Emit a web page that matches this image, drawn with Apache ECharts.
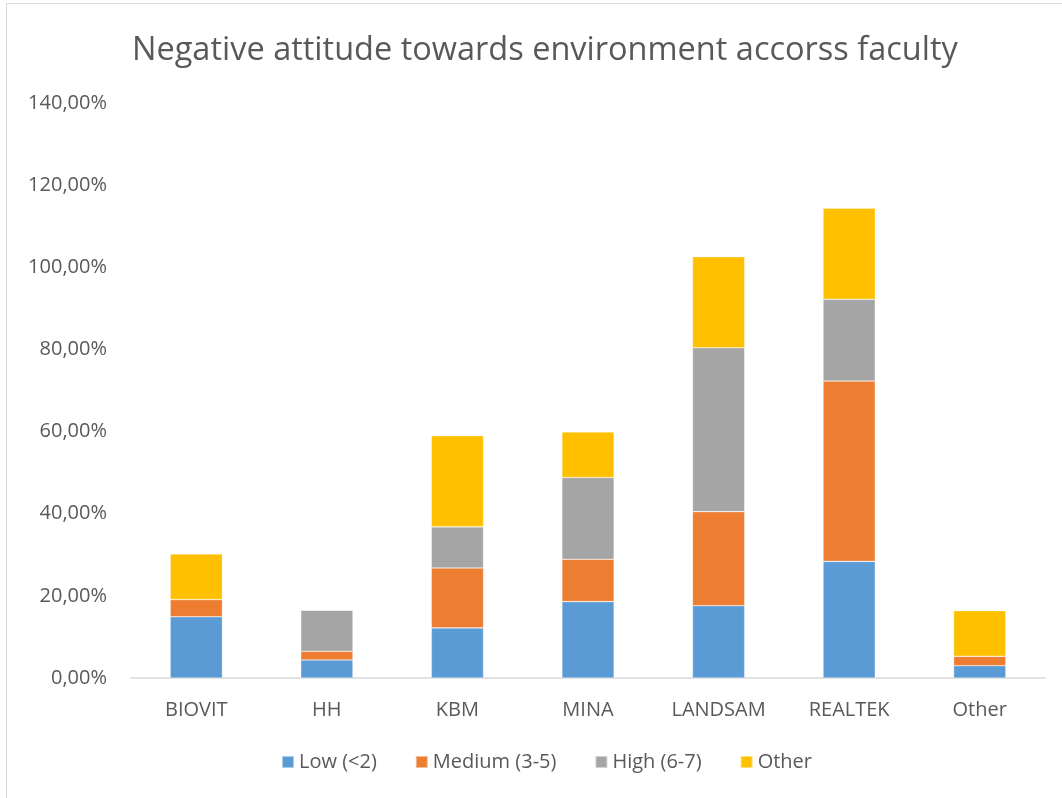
<!DOCTYPE html>
<html>
<head>
<meta charset="utf-8">
<script src="https://cdn.jsdelivr.net/npm/echarts@6/dist/echarts.min.js"></script>
<style>
html,body{margin:0;padding:0;background:#fff;}
#c{width:1062px;height:798px;position:relative;}
#b{position:absolute;left:6px;top:3px;width:1070px;height:810px;border-top:1px solid #d9d9d9;border-left:1px solid #d9d9d9;pointer-events:none;}
</style>
</head>
<body>
<div id="c"></div>
<div id="b"></div>
<script>
const categories = ['BIOVIT', 'HH', 'KBM', 'MINA', 'LANDSAM', 'REALTEK', 'Other'];
const seriesNames = ['Low (<2)', 'Medium (3-5)', 'High (6-7)', 'Other'];
const lowVals    = [14.9, 4.4, 12.2, 18.6, 17.6, 28.4, 3.0];
const mediumVals = [4.2, 2.1, 14.6, 10.3, 22.9, 43.9, 2.3];
const highVals   = [0, 10.0, 10.0, 19.9, 39.9, 19.9, 0];
const otherVals  = [11.1, 0, 22.2, 11.1, 22.2, 22.2, 11.1];
const colors = ['#5B9BD5', '#ED7D31', '#A5A5A5', '#FFC000'];
const allVals = [lowVals, mediumVals, highVals, otherVals];

const font = '"Open Sans", sans-serif';
const chart = echarts.init(document.getElementById('c'));
chart.setOption({
  animation: false,
  title: {
    text: 'Negative attitude towards environment accorss faculty',
    left: 127, top: 29,
    textStyle: {fontFamily: font, fontSize: 32.5, fontWeight: 'normal', color: '#595959'}
  },
  legend: {
    bottom: 21, left: 276,
    itemWidth: 12, itemHeight: 12, itemGap: 38,
    icon: 'rect',
    textStyle: {fontFamily: font, fontSize: 20, color: '#595959'},
    data: seriesNames
  },
  grid: {left: 131, right: 17, top: 103, bottom: 120},
  xAxis: {
    type: 'category', data: categories,
    axisLine: {lineStyle: {color: '#d9d9d9', width: 1.5}},
    axisTick: {show: false},
    axisLabel: {fontFamily: font, fontSize: 20, color: '#595959', margin: 22}
  },
  yAxis: {
    type: 'value', min: 0, max: 140, interval: 20,
    axisLine: {show: false}, axisTick: {show: false},
    splitLine: {show: false},
    axisLabel: {fontFamily: font, fontSize: 20, color: '#595959', margin: 24,
      formatter: v => v.toFixed(2).replace('.', ',') + '%'}
  },
  series: seriesNames.map((n, i) => ({
    name: n, type: 'bar', stack: 'all',
    barWidth: '40%',
    itemStyle: {color: colors[i], borderColor: 'rgba(255,255,255,0.5)', borderWidth: 0.6},
    data: allVals[i]
  }))
});
</script>
</body>
</html>
